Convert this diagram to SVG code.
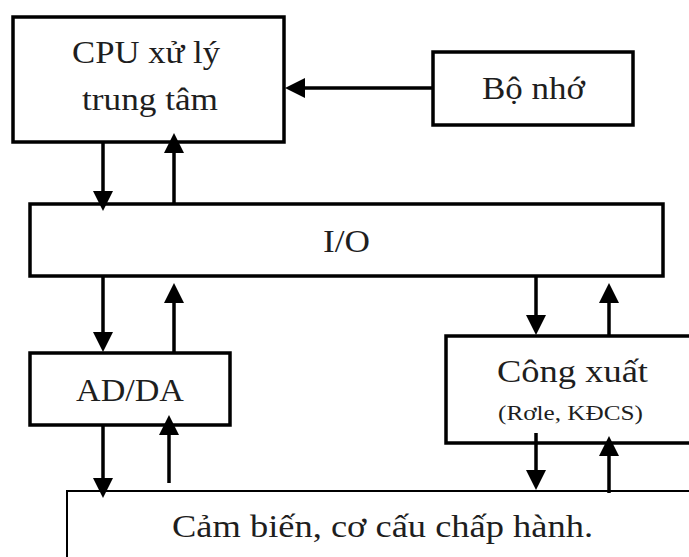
<svg xmlns="http://www.w3.org/2000/svg" width="689" height="557" viewBox="0 0 689 557">
<defs>
<style>
.box{fill:#fff;stroke:#000;stroke-width:3.5}
.thin{fill:#fff;stroke:#000;stroke-width:2}
.lbl{font-family:"Liberation Serif","Times New Roman",serif;font-size:31px;fill:#1e1e1e}
.sm{font-size:22px}
.c{fill:none;stroke:#000;stroke-width:3.5;marker-end:url(#ah)}
</style>
<marker id="ah" viewBox="0 0 20 20" refX="10" refY="10" markerWidth="20" markerHeight="20" markerUnits="userSpaceOnUse" orient="auto">
<path d="M0,0 L20,10 L0,20 z" fill="#000"/>
</marker>
</defs>
<rect width="689" height="557" fill="#fff"/>
<g id="cpu">
<rect class="box" x="13" y="17" width="271" height="125"/>
<text class="lbl" x="72" y="63" textLength="148" lengthAdjust="spacingAndGlyphs">CPU xử lý</text>
<text class="lbl" x="82" y="110" textLength="136" lengthAdjust="spacingAndGlyphs">trung tâm</text>
</g>
<g id="bonho">
<rect class="box" x="433" y="52" width="200" height="73"/>
<text class="lbl" x="482" y="99" textLength="103" lengthAdjust="spacingAndGlyphs">Bộ nhớ</text>
</g>
<g id="io">
<rect class="box" x="30" y="204" width="633" height="72"/>
<text class="lbl" x="323" y="252" textLength="47" lengthAdjust="spacingAndGlyphs">I/O</text>
</g>
<g id="adda">
<rect class="box" x="30" y="353" width="200" height="72"/>
<text class="lbl" x="76" y="401" textLength="108" lengthAdjust="spacingAndGlyphs">AD/DA</text>
</g>
<g id="congxuat">
<rect class="box" x="446" y="336" width="260" height="107"/>
<text class="lbl" x="497" y="382" textLength="151" lengthAdjust="spacingAndGlyphs">Công xuất</text>
<text class="lbl sm" x="498" y="420" textLength="145" lengthAdjust="spacingAndGlyphs">(Rơle, KĐCS)</text>
</g>
<g id="cambien">
<rect class="thin" x="67" y="491" width="640" height="90"/>
<text class="lbl" x="172" y="537" textLength="421" lengthAdjust="spacingAndGlyphs">Cảm biến, cơ cấu chấp hành.</text>
</g>
<g id="connectors">
<path class="c" d="M433,88 H295"/>
<path class="c" d="M103,142 V201"/>
<path class="c" d="M174,204 V143"/>
<path class="c" d="M103,276 V342"/>
<path class="c" d="M174,353 V293"/>
<path class="c" d="M103,425 V488"/>
<path class="c" d="M169,483 V425"/>
<path class="c" d="M536,276 V325"/>
<path class="c" d="M609,336 V293"/>
<path class="c" d="M536,433 V480"/>
<path class="c" d="M609,493 V446"/>
</g>
</svg>
